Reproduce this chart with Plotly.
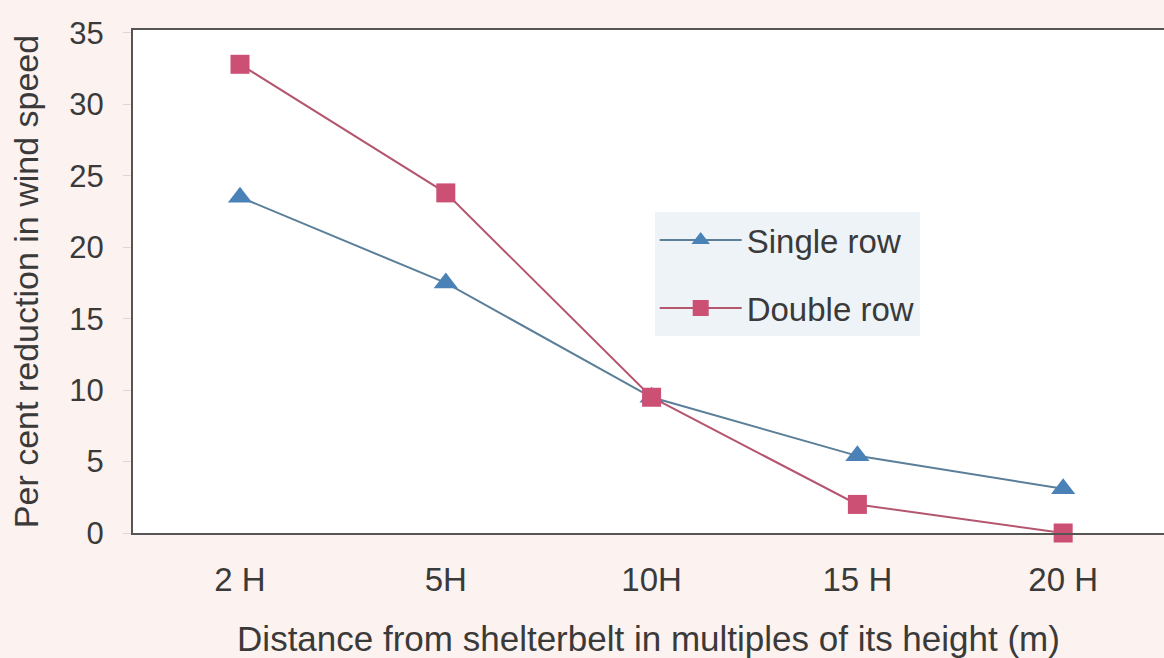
import plotly.graph_objects as go

categories = ["2 H", "5H", "10H", "15 H", "20 H"]
single_row = [23.5, 17.5, 9.5, 5.4, 3.1]
double_row = [32.8, 23.8, 9.5, 2.0, 0.0]
y_ticks = [0, 5, 10, 15, 20, 25, 30, 35]

FONT = "Liberation Sans, Arial, sans-serif"
TXT = "#3a3a3a"

fig = go.Figure()
fig.add_trace(go.Scatter(
    x=categories, y=single_row, name="Single row", mode="lines+markers",
    line=dict(color="#5b7f98", width=2),
    marker=dict(symbol="triangle-up", size=21, color="#4a82b8"),
    legendgroup="a", cliponaxis=False,
))
fig.add_trace(go.Scatter(
    x=categories, y=double_row, name="Double row", mode="lines+markers",
    line=dict(color="#b5566f", width=2),
    marker=dict(symbol="square", size=19, color="#cc4f74"),
    legendgroup="b", cliponaxis=False,
))

fig.update_layout(
    width=1164, height=658,
    margin=dict(l=133, r=0, t=30, b=125),
    paper_bgcolor="#fcf2ef",
    plot_bgcolor="#ffffff",
    font=dict(family=FONT, color=TXT),
    showlegend=True,
    legend=dict(
        x=0.506, y=0.638, xanchor="left", yanchor="top",
        bgcolor="#eef3f8", borderwidth=0,
        font=dict(size=33, color=TXT, family=FONT),
        tracegroupgap=22, itemwidth=82,
    ),
    xaxis=dict(
        type="category", range=[-0.52, 4.49],
        showline=True, linecolor="#555555", linewidth=2, mirror=True,
        showgrid=False, zeroline=False, ticks="",
        tickfont=dict(size=33, color=TXT),
        ticklabelstandoff=16,
        title=dict(text="Distance from shelterbelt in multiples of its height (m)",
                   font=dict(size=35, color=TXT), standoff=32),
    ),
    yaxis=dict(
        range=[0, 35.2], tickvals=y_ticks,
        showline=True, linecolor="#555555", linewidth=2,
        showgrid=False, zeroline=False,
        ticks="outside", ticklen=8, tickcolor="rgba(160,160,160,0.35)",
        tickfont=dict(size=31, color=TXT),
        ticklabelstandoff=13,
        title=dict(text="Per cent reduction in wind speed",
                   font=dict(size=34, color=TXT), standoff=20),
    ),
)

fig.write_html("out.html")
